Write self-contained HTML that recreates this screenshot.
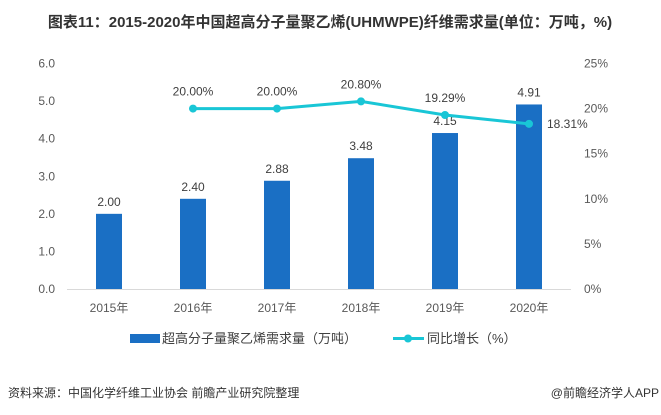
<!DOCTYPE html>
<html><head><meta charset="utf-8"><style>
body{margin:0;background:#fff;}
svg{display:block;font-family:"Liberation Sans","Noto Sans CJK SC",sans-serif;}
</style></head><body>
<svg id="c" width="661" height="415" viewBox="0 0 661 415">
<text x="330" y="27" text-anchor="middle" font-size="15" font-weight="bold" fill="#333">图表11：2015-2020年中国超高分子量聚乙烯(UHMWPE)纤维需求量(单位：万吨，%)</text>
<g id="plot"></g>
<g>
<rect x="130" y="334" width="30" height="9" fill="#1a6fc4"/>
<text x="162" y="343" font-size="13" fill="#404040">超高分子量聚乙烯需求量（万吨）</text>
<line x1="393" y1="338.5" x2="424" y2="338.5" stroke="#19c6d6" stroke-width="3"/>
<circle cx="408" cy="338.5" r="4" fill="#19c6d6"/>
<text x="427" y="343" font-size="13" fill="#404040">同比增长（%）</text>
</g>
<text x="8" y="397" font-size="12" fill="#333">资料来源：中国化学纤维工业协会 前瞻产业研究院整理</text>
<text x="659" y="397" text-anchor="end" font-size="12" fill="#333">@前瞻经济学人APP</text>
</svg>
<script>
const years=["2015年","2016年","2017年","2018年","2019年","2020年"];
const demand=[2.00,2.40,2.88,3.48,4.15,4.91];
const growth=[null,20.00,20.00,20.80,19.29,18.31];
const leftTicks=[0,1,2,3,4,5,6];
const rightTicks=[0,5,10,15,20,25];
const NS="http://www.w3.org/2000/svg";
const g=document.getElementById('plot');
const x0=67,x1=571,yb=289,yt=63.5;
const step=(x1-x0)/years.length;
const xc=i=>x0+step*(i+0.5);
const yl=v=>yb-(v/6)*(yb-yt);
const yr=v=>yb-(v/25)*(yb-yt);
function mk(t,a,txt){const e=document.createElementNS(NS,t);for(const k in a)e.setAttribute(k,a[k]);if(txt!==undefined)e.textContent=txt;g.appendChild(e);return e;}
leftTicks.forEach(v=>{const e=mk('text',{x:55,y:yl(v)+4,'text-anchor':'end','font-size':12,fill:'#595959'},v.toFixed(1));

});
rightTicks.forEach(v=>{const e=mk('text',{x:584,y:yr(v)+4,'font-size':12,fill:'#595959'},v+'%');

});
const ax=mk('line',{x1:x0,y1:yb+0.5,x2:x1,y2:yb+0.5,stroke:'#d9d9d9','stroke-width':1});


demand.forEach((v,i)=>{
const r=mk('rect',{x:xc(i)-13,y:yl(v),width:26,height:yb-yl(v),fill:'#1a6fc4'});


const t=mk('text',{x:xc(i),y:yl(v)-8,'text-anchor':'middle','font-size':12,fill:'#404040'},v.toFixed(2));


const yx=mk('text',{x:xc(i),y:yb+23,'text-anchor':'middle','font-size':12,fill:'#595959'},years[i]);


});
let pts=[];growth.forEach((v,i)=>{if(v!==null)pts.push([xc(i),yr(v)]);});
const pl=mk('polyline',{points:pts.map(p=>p.join(',')).join(' '),fill:'none',stroke:'#19c6d6','stroke-width':3});


growth.forEach((v,i)=>{if(v===null)return;
const c=mk('circle',{cx:xc(i),cy:yr(v),r:4,fill:'#19c6d6'});


const last=i===growth.length-1;
const t=mk('text',{x:last?xc(i)+18:xc(i),y:last?yr(v)+4:yr(v)-13,'text-anchor':last?'start':'middle','font-size':12,fill:'#404040'},v.toFixed(2)+'%');


});
</script>
</body></html>
